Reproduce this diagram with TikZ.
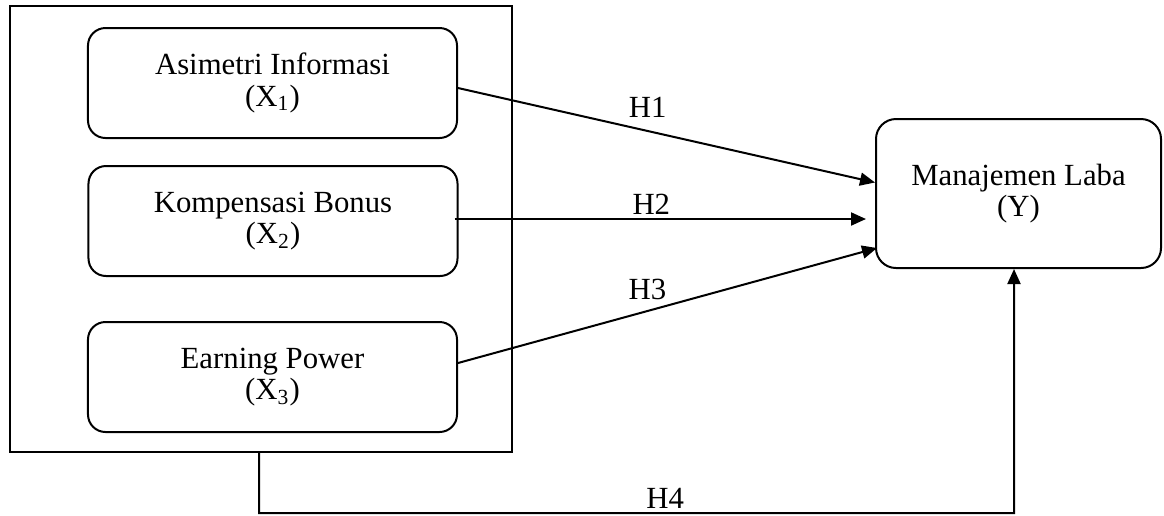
\documentclass[tikz,border=0pt]{standalone}
\usepackage{fontspec}
\setmainfont{Liberation Serif}
\usepackage{tikz}
\usetikzlibrary{positioning}
\usetikzlibrary {arrows.meta}
\tikzset{varbox/.style={rectangle,draw=black,rounded corners=7pt,line width=0.8pt,
align=center,inner sep=2pt,minimum height=44pt, minimum width=147.6pt,
font=\fontsize{12.3}{12.6}\selectfont}}
\tikzset{outerbox/.style={rectangle,draw=black,line width=0.8pt,
inner sep=0pt,minimum height=178.4pt, minimum width=200.8pt}}
\tikzset{hyp/.style={line width=0.8pt,-{Triangle[length=6pt,width=5.2pt]}}}
\tikzset{hlabel/.style={inner sep=0pt,anchor=base,font=\fontsize{12.3}{12.6}\selectfont}}

\begin{document}
\begin{tikzpicture}[x=0.4pt,y=-0.4pt]
        \useasboundingbox (0,0) rectangle (1164,515);

        \node[outerbox] (outer) at (261,229) {};
        \node[varbox] (asimetri) at (272.5,83) {Asimetri Informasi\\(X\textsubscript{1})};
        \node[varbox] (kompensasi) at (273,221) {Kompensasi Bonus\\(X\textsubscript{2})};
        \node[varbox] (earning) at (272.5,377) {Earning Power\\(X\textsubscript{3})};

        \node[varbox, rounded corners=8pt, minimum width=114pt, minimum height=59.6pt] (manajemen) at (1018.5,193.5) {Manajemen Laba\\(Y)};

        \draw [hyp] ([yshift=-2pt]asimetri.east) --node[hlabel, pos=0.455, yshift=5.6pt] {H1} ([yshift=4.4pt]manajemen.west);
        \draw [hyp, shorten >=3.6pt] ([xshift=-1.6pt,yshift=0.8pt]kompensasi.east) --node[hlabel, pos=0.468, yshift=2pt] {H2} ([yshift=0.8pt]manajemen.west |- kompensasi.east);
        \draw [hyp] ([yshift=5.6pt]earning.east) --node[hlabel, pos=0.452, yshift=4.8pt] {H3} ([xshift=0.8pt,yshift=-21.8pt]manajemen.west);

        \coordinate (bend) at (1014,513);
        \draw [hyp] ([xshift=-0.8pt]outer.south) |-node[hlabel, pos=0.769, yshift=2pt] {H4} (bend) -- ([xshift=-1.8pt]manajemen.south);

    \end{tikzpicture}
\end{document}
